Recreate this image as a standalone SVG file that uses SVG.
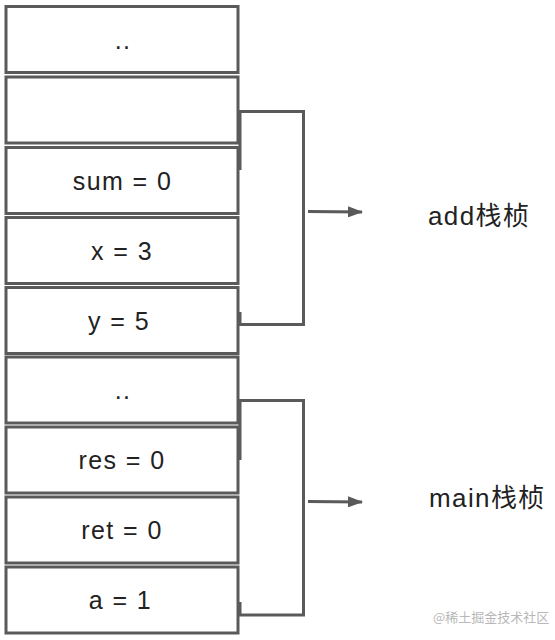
<svg xmlns="http://www.w3.org/2000/svg" width="555" height="640" viewBox="0 0 555 640">
<defs>
<style>
.box{fill:#fff;stroke:#5a5a5a;stroke-width:3}
.br{fill:none;stroke:#5a5a5a;stroke-width:3}
.t{font-family:"Liberation Sans","Noto Sans CJK SC",sans-serif;font-size:25px;letter-spacing:1.4px;fill:#222;text-anchor:middle}
.lbl{font-family:"Liberation Sans","Noto Sans CJK SC",sans-serif;font-size:26px;letter-spacing:1.4px;fill:#222}
.wm{font-family:"Noto Sans CJK SC",sans-serif;font-size:13px;fill:#b8b8b8}
</style>
<marker id="ah" markerWidth="15" markerHeight="11" refX="14" refY="5.5" orient="auto" markerUnits="userSpaceOnUse">
<path d="M0,0 L15,5.5 L0,11 z" fill="#5a5a5a"/>
</marker>
</defs>
<rect width="555" height="640" fill="#fff"/>
<g id="n1"><rect class="box" x="6" y="6.5" width="232" height="66"/><text class="t" x="123" y="48.5">..</text></g>
<g id="n2"><rect class="box" x="6" y="77" width="232" height="66"/></g>
<g id="n3"><rect class="box" x="6" y="147.5" width="232" height="66"/><text class="t" x="122.5" y="189.5">sum = 0</text></g>
<g id="n4"><rect class="box" x="6" y="217.5" width="232" height="66"/><text class="t" x="122" y="259.5">x = 3</text></g>
<g id="n5"><rect class="box" x="6" y="287.5" width="232" height="66"/><text class="t" x="119" y="330">y = 5</text></g>
<g id="n6"><rect class="box" x="6" y="357" width="232" height="66"/><text class="t" x="123" y="398.5">..</text></g>
<g id="n7"><rect class="box" x="6" y="427" width="232" height="66"/><text class="t" x="122" y="469">res = 0</text></g>
<g id="n8"><rect class="box" x="6" y="497" width="232" height="66"/><text class="t" x="122" y="539">ret = 0</text></g>
<g id="n9"><rect class="box" x="6" y="567" width="232" height="66"/><text class="t" x="120.5" y="609">a = 1</text></g>
<g id="connectors">
<path class="br" d="M240,170 V111.5 H303.5 V324.5 H240 V312"/>
<path class="br" d="M240,460 V400.5 H303.5 V615 H240 V602"/>
<line class="br" x1="308" y1="211.5" x2="362" y2="212" marker-end="url(#ah)"/>
<line class="br" x1="308" y1="501.5" x2="362" y2="502" marker-end="url(#ah)"/>
</g>
<g id="add-label"><text class="lbl" x="428" y="225">add栈桢</text></g>
<g id="main-label"><text class="lbl" x="429" y="507">main栈桢</text></g>
<text class="wm" x="433" y="622">@稀土掘金技术社区</text>
</svg>
